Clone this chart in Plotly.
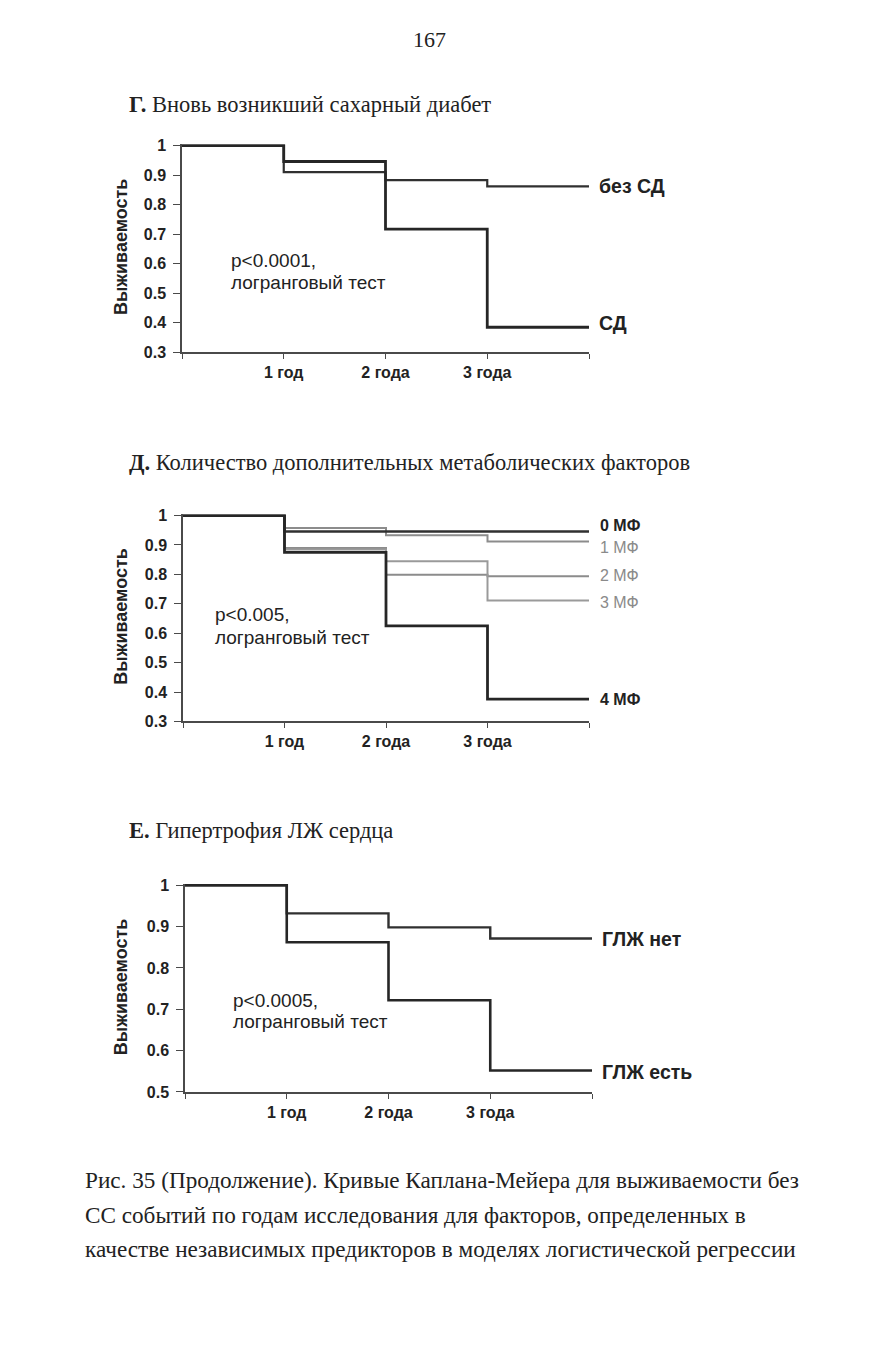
import plotly.graph_objects as go

W, H = 879, 1350

# ---------------- data ----------------
years = [0, 1, 2, 3, 4]
tick_vals = [0, 1, 2, 3, 4]
tick_text = ["", "1 год", "2 года", "3 года", ""]

# Chart Г
dm_no = [1.0, 0.910, 0.883, 0.862]
dm_yes = [1.0, 0.946, 0.717, 0.385]

# Chart Д
mf0 = [1.0, 0.946, 0.946, 0.946]
mf1 = [1.0, 0.958, 0.933, 0.912]
mf2 = [1.0, 0.890, 0.799, 0.794]
mf3 = [1.0, 0.885, 0.845, 0.711]
mf4 = [1.0, 0.875, 0.625, 0.376]

# Chart Е
lvh_no = [1.0, 0.932, 0.898, 0.871]
lvh_yes = [1.0, 0.862, 0.722, 0.552]

y_ticks_1 = [0.3, 0.4, 0.5, 0.6, 0.7, 0.8, 0.9, 1]
y_ticks_3 = [0.5, 0.6, 0.7, 0.8, 0.9, 1]


def px(x):
    return x / W


def py(y):
    return 1 - y / H


def ext(v):
    return v + [v[-1]]


fig = go.Figure()

DARK = "#303030"
GRAY = "#8c8c8c"
AXC = "#4a4a4a"


def add(vals, axis, color, width):
    fig.add_trace(go.Scatter(
        x=years, y=ext(vals), mode="lines", line_shape="hv",
        line=dict(color=color, width=width),
        xaxis="x" + axis, yaxis="y" + axis, showlegend=False, hoverinfo="skip"))


add(dm_no, "", DARK, 2.2)
add(dm_yes, "", "#262626", 2.8)

add(mf1, "2", GRAY, 2.0)
add(mf2, "2", GRAY, 2.0)
add(mf3, "2", "#9a9a9a", 2.0)
add(mf0, "2", DARK, 2.6)
add(mf4, "2", "#262626", 2.8)

add(lvh_no, "3", DARK, 2.4)
add(lvh_yes, "3", "#262626", 2.6)

tickfont = dict(family="Liberation Sans, Arial", size=16, color="#222", weight="bold")


def xaxis(dom):
    return dict(domain=dom, range=[0, 4], tickvals=tick_vals, ticktext=tick_text,
                showline=True, linecolor=AXC, linewidth=1.5, ticks="outside",
                ticklen=5, tickcolor=AXC, tickwidth=1.2, showgrid=False,
                zeroline=False, tickfont=tickfont, fixedrange=True)


def yaxis(dom, anchor, rng, tv):
    return dict(domain=dom, anchor=anchor, range=rng, tickvals=tv,
                ticktext=[("%g" % t) for t in tv],
                showline=True, linecolor=AXC, linewidth=1.5, ticks="outside",
                ticklen=7, tickcolor=AXC, tickwidth=1.2, showgrid=False,
                zeroline=False, tickfont=tickfont, fixedrange=True,
                ticklabelstandoff=4)


fig.update_layout(
    width=W, height=H, margin=dict(l=0, r=0, t=0, b=0),
    paper_bgcolor="white", plot_bgcolor="white",
    xaxis=dict(xaxis([px(182), px(589)]), anchor="y"),
    yaxis=yaxis([py(349.5), py(139)], "x", [0.3, 1.004], y_ticks_1),
    xaxis2=dict(xaxis([px(183), px(589)]), anchor="y2"),
    yaxis2=yaxis([py(723), py(513.5)], "x2", [0.3, 1.004], y_ticks_1),
    xaxis3=dict(xaxis([px(185), px(592)]), anchor="y3"),
    yaxis3=yaxis([py(1098), py(887.5)], "x3", [0.5, 1.003], y_ticks_3),
)

ann = []


def text(x, y, s, size, family="Liberation Sans, Arial", color="#222", xanchor="left",
         weight="normal", textangle=0):
    ann.append(dict(x=px(x), y=py(y), xref="paper", yref="paper", text=s,
                    showarrow=False, xanchor=xanchor, yanchor="middle",
                    textangle=textangle,
                    font=dict(family=family, size=size, color=color, weight=weight)))


SERIF = "Liberation Serif, Times New Roman"

text(429, 33, "167", 22, SERIF, "#222", "center")

# titles
text(127, 99, "<b>Г.</b> Вновь возникший сахарный диабет", 22.5, SERIF)
text(127, 461, "<b>Д.</b> Количество дополнительных метаболических факторов", 22.5, SERIF)
text(127, 833, "<b>Е.</b> Гипертрофия ЛЖ сердца", 22.5, SERIF)

# y titles
for yc in (243, 617, 992):
    text(121, yc, "Выживаемость", 18, weight="bold", xanchor="center", textangle=-90)

# p-value notes
text(229, 257, "p<0.0001,", 19)
text(229, 279, "логранговый тест", 19)
text(213, 615, "p<0.005,", 19)
text(213, 638, "логранговый тест", 19)
text(231, 1005, "p<0.0005,", 19)
text(231, 1027, "логранговый тест", 19)

# series labels
text(597, 181, "без СД", 19.5, weight="bold")
text(597, 320, "СД", 19.5, weight="bold")

text(598, 525, "0 МФ", 16, weight="bold")
text(598, 547, "1 МФ", 16, color="#8a8a8a")
text(598, 575, "2 МФ", 16, color="#8a8a8a")
text(598, 603, "3 МФ", 16, color="#8a8a8a")
text(598, 701, "4 МФ", 16, weight="bold")

text(600, 943, "ГЛЖ нет", 19.5, weight="bold")
text(600, 1078, "ГЛЖ есть", 19.5, weight="bold")

# caption
cap = [
    "Рис. 35 (Продолжение). Кривые Каплана-Мейера для выживаемости без",
    "СС событий по годам исследования для факторов, определенных в",
    "качестве независимых предикторов в моделях логистической регрессии",
]
for i, line in enumerate(cap):
    text(83, 1187 + 35 * i, line, 23.2, SERIF)

fig.update_layout(annotations=ann)
fig.write_html("out.html", config={"displayModeBar": False},
               post_script="document.body.style.margin='0';document.body.style.padding='0';")
